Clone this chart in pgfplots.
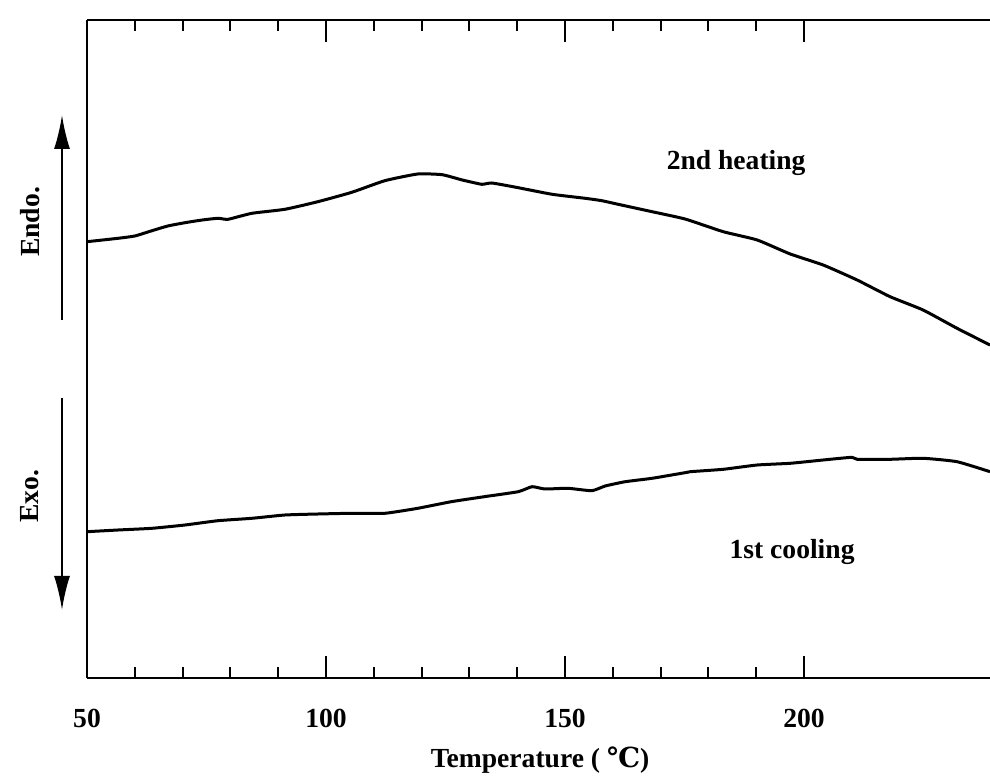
\documentclass[border=0pt]{standalone}
\usepackage{fontspec}
\setmainfont{Liberation Serif}
\newfontfamily\symfont{DejaVu Serif}
\usepackage{pgfplots}
\pgfplotsset{compat=1.18}
\usetikzlibrary{arrows.meta}

\newcommand{\lblfont}{\fontsize{13.8bp}{16bp}\selectfont\bfseries}

% DSC traces (arbitrary heat-flow units, endotherm up)
\pgfplotstableread{
T      q
50.0   436.3
56.5   439.7
60.0   442.0
63.6   447.3
66.9   452.0
70.5   455.3
74.1   458.0
77.4   459.7
79.5   458.7
84.5   464.7
91.4   468.7
98.3   476.3
105.4  485.7
112.3  497.3
119.2  504.0
124.3  503.3
128.5  498.0
132.6  493.7
134.7  495.0
140.2  490.3
147.3  483.7
154.2  479.7
157.7  477.3
161.1  473.7
168.2  466.3
175.1  459.0
183.1  446.3
190.2  438.0
197.1  424.0
204.0  413.0
211.1  398.0
218.0  381.3
224.9  368.0
232.0  349.7
238.9  333.0
}\heating

\pgfplotstableread{
T      q
50.0   146.3
56.5   148.0
63.6   149.7
70.5   153.0
77.4   157.3
84.5   159.7
91.4   163.0
98.3   164.0
105.4  164.7
112.3  164.7
119.2  169.7
126.2  176.3
133.1  181.3
140.2  186.3
143.1  191.3
145.8  189.0
150.6  189.7
155.6  187.3
158.4  192.0
162.6  196.3
168.2  199.7
175.1  205.3
176.2  206.3
183.1  208.7
190.2  213.0
197.1  214.7
204.0  218.0
210.0  220.7
211.1  218.7
218.0  218.7
224.9  219.7
232.0  216.3
238.9  206.3
}\cooling

\begin{document}
\begin{tikzpicture}
\path[use as bounding box] (-43.5bp,-50bp) rectangle (451.5bp,339bp);
\begin{axis}[
  at={(0,0)}, anchor=south west,
  scale only axis, width=451.5bp, height=329bp,
  xmin=50, xmax=238.9, ymin=0, ymax=658,
  xtick={50,100,150,200}, minor x tick num=4,
  ytick=\empty,
  tick align=inside, xtick pos=both,
  major tick length=11bp, minor tick length=5.5bp,
  every tick/.style={black, line width=1bp},
  separate axis lines,
  x axis line style={line width=1.3bp},
  y axis line style={draw=none},
  /pgf/number format/assume math mode=true,
  xticklabel style={font=\lblfont, yshift=-12bp},
  clip=false,
]
\addplot[black, line width=1.5bp, line join=round, smooth, tension=0.3] table[x=T, y=q] {\heating};
\addplot[black, line width=1.5bp, line join=round, smooth, tension=0.3] table[x=T, y=q] {\cooling};
\draw[line width=1.3bp] (rel axis cs:0,0) -- (rel axis cs:0,1);
\node[font=\lblfont] at (axis cs:185.8,515) {2nd heating};
\node[font=\lblfont] at (axis cs:197.5,126) {1st cooling};
\node[font=\lblfont] at (axis description cs:0.5017,0) [yshift=-41bp] {Temperature ( {\symfont\bfseries ℃})};
\end{axis}
% Endo./Exo. direction indicators
\draw[line width=1bp, -{Latex[length=17bp,width=8bp]}] (-12.5bp,179bp) -- (-12.5bp,281.5bp);
\draw[line width=1bp, -{Latex[length=17bp,width=8bp]}] (-12.5bp,140bp) -- (-12.5bp,34bp);
\node[font=\lblfont, rotate=90] at (-28.5bp,228bp) {Endo.};
\node[font=\lblfont, rotate=90] at (-28.5bp,91bp) {Exo.};
\end{tikzpicture}
\end{document}
